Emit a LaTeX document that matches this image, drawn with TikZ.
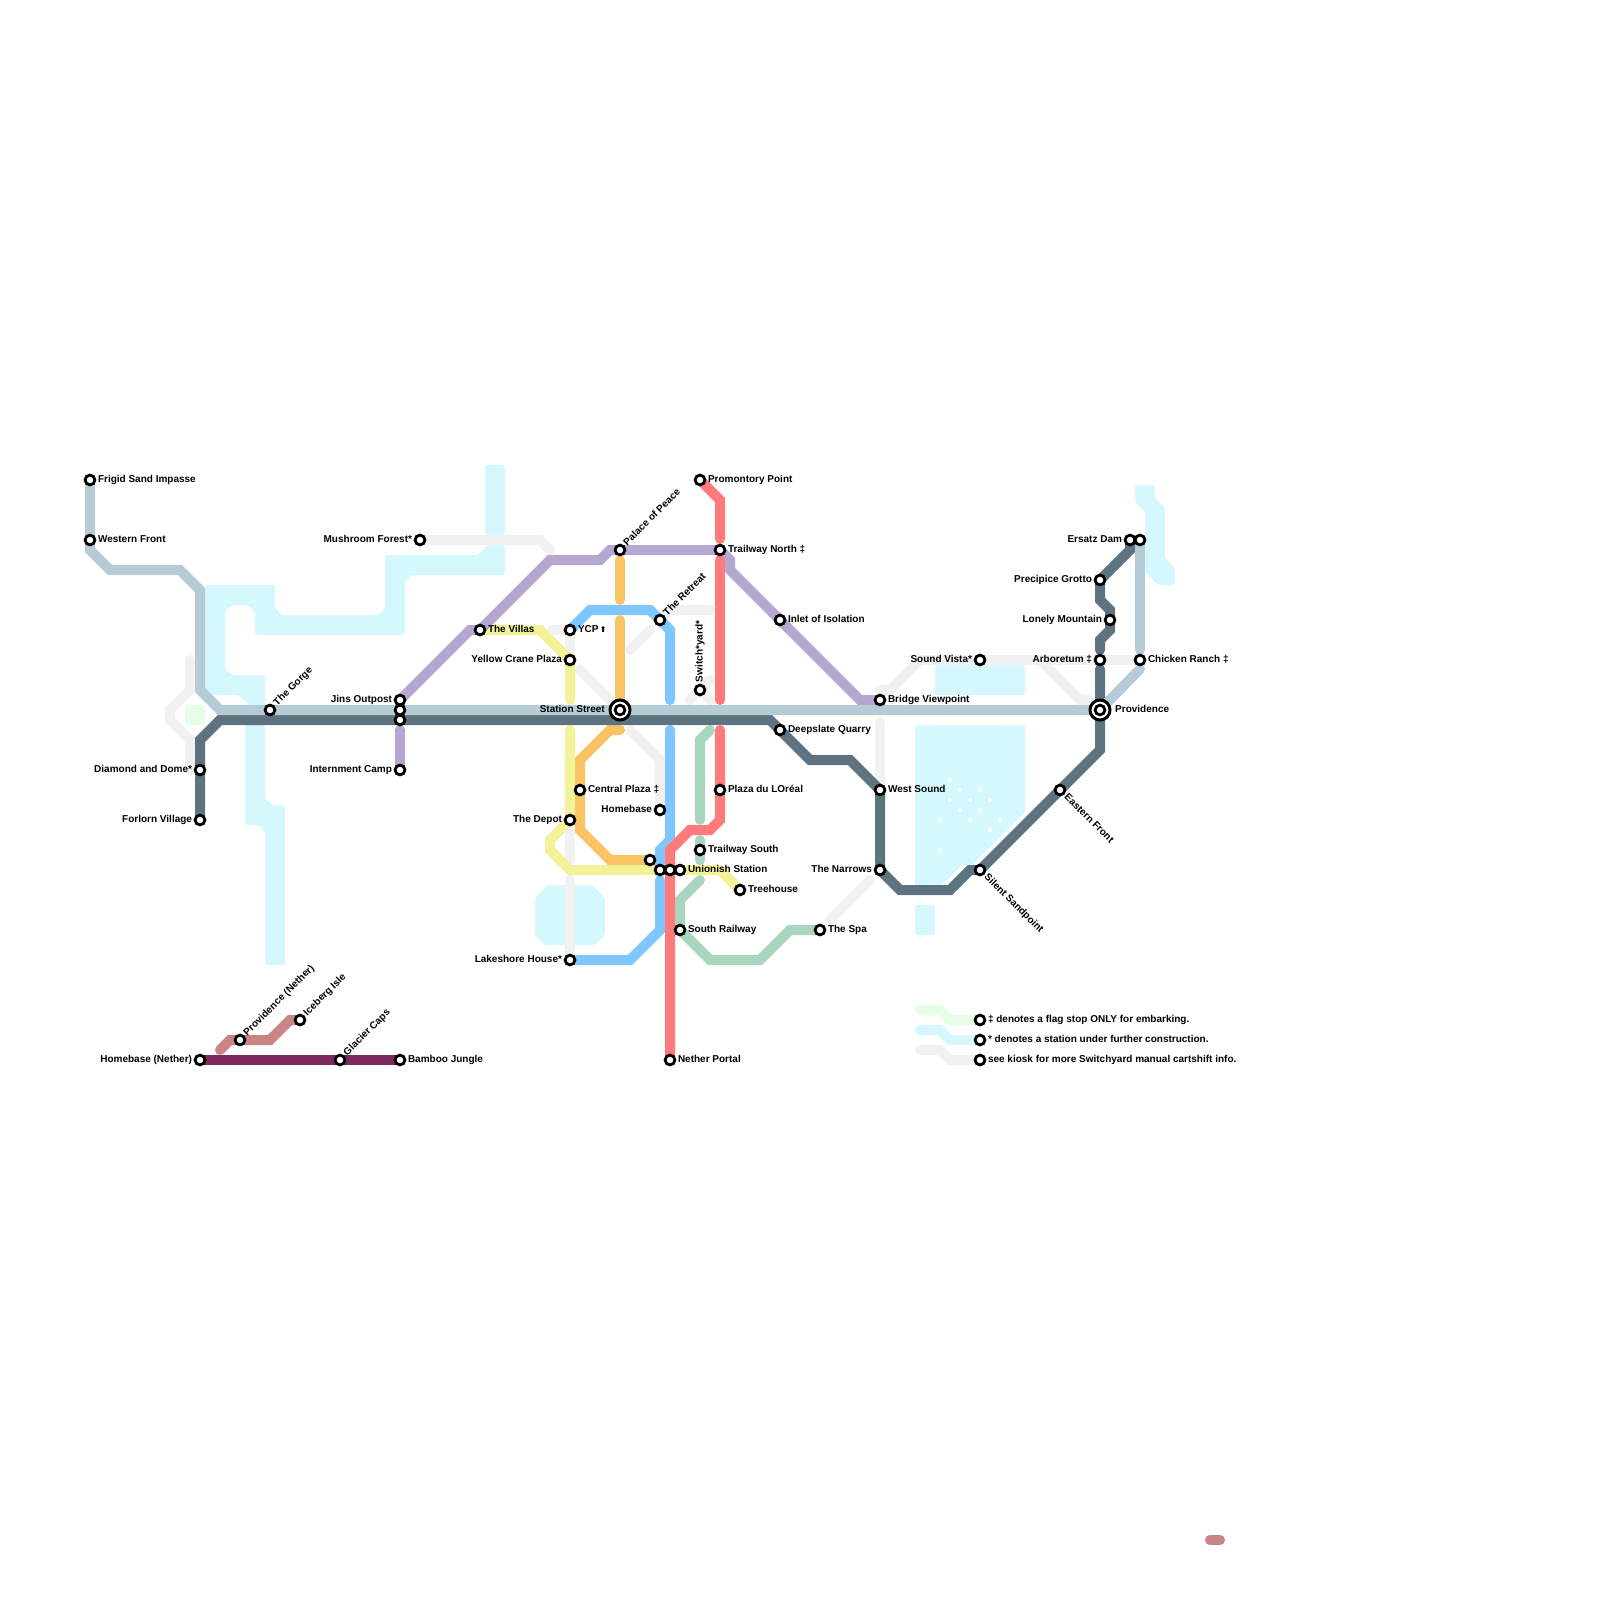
\documentclass[tikz,border=0pt]{standalone}
\usepackage{fontspec}
\setmainfont{Liberation Sans}
\newfontfamily\arrowfont{DejaVu Sans}
\usetikzlibrary{backgrounds}
\definecolor{cfog}{HTML}{B5CCD6}
\definecolor{cslate}{HTML}{5E7380}
\definecolor{cpurple}{HTML}{B6A6D2}
\definecolor{ccoral}{HTML}{FF7A7A}
\definecolor{cblue}{HTML}{7FC6FF}
\definecolor{corange}{HTML}{FAC364}
\definecolor{cyellow}{HTML}{F2F298}
\definecolor{cgreen}{HTML}{A9D6BE}
\definecolor{cgray}{HTML}{F1F1F1}
\definecolor{cwater}{HTML}{D5F8FF}
\definecolor{cpale}{HTML}{E6FDE6}
\definecolor{crose}{HTML}{C98484}
\definecolor{cplum}{HTML}{7B2A5B}
\tikzset{
stn/.style= {circle,draw=black,line width=1.4pt,fill=white,inner sep=0pt,outer sep=0pt,minimum size=4.9pt},
hub/.style= {circle,draw=black,line width=1.5pt,fill=white,inner sep=0pt,outer sep=0pt,minimum size=10pt},
lbl/.style= {font=\bfseries\fontsize{5pt}{6pt}\selectfont,inner ysep=0pt,inner xsep=3.8pt,text height=3.5pt,text depth=1pt},
lblr/.style= {lbl,anchor=west},
lbll/.style= {lbl,anchor=east},
lblu/.style= {lbl,anchor=west,rotate=45},
lbld/.style= {lbl,anchor=west,rotate=-45},
lblv/.style= {lbl,anchor=west,rotate=90},
ln/.style= {line width=5pt,line cap=round,line join=miter},
water/.style= {fill=cwater,rounded corners=1.2pt}
}

\begin{document}
\begin{tikzpicture}[x=5pt,y=-5pt]
\useasboundingbox (0,0) rectangle (160,160);

% the stations that carry a name
\foreach \id/\x/\y/\side/\txt in {
frigid/9/48/r/Frigid Sand Impasse, western/9/54/r/Western Front,
mushroom/42/54/l/Mushroom Forest*, jins/40/70/l/Jins Outpost,
internment/40/77/l/Internment Camp, gorge/27/71/u/The Gorge,
diamond/20/77/l/Diamond and Dome*, forlorn/20/82/l/Forlorn Village,
villas/48/63/r/The Villas, crane/57/66/l/Yellow Crane Plaza,
palace/62/55/u/Palace of Peace, trailn/72/55/r/Trailway North ‡,
promontory/70/48/r/Promontory Point, retreat/66/62/u/The Retreat,
switchyard/70/69/v/Switch*yard*, inlet/78/62/r/Inlet of Isolation,
bridge/88/70/r/Bridge Viewpoint, deepslate/78/73/r/Deepslate Quarry,
central/58/79/r/Central Plaza ‡, homebase/66/81/l/Homebase,
depot/57/82/l/The Depot, loreal/72/79/r/Plaza du LOréal,
trails/70/85/r/Trailway South, unionish/68/87/r/Unionish Station,
treehouse/74/89/r/Treehouse, southrail/68/93/r/South Railway,
spa/82/93/r/The Spa, lakeshore/57/96/l/Lakeshore House*,
nether/67/106/r/Nether Portal, westsound/88/79/r/West Sound,
narrows/88/87/l/The Narrows, silent/98/87/d/Silent Sandpoint,
eastern/106/79/d/Eastern Front, vista/98/66/l/Sound Vista*,
arboretum/110/66/l/Arboretum ‡, chicken/114/66/r/Chicken Ranch ‡,
lonely/111/62/l/Lonely Mountain, precipice/110/58/l/Precipice Grotto,
ersatz/113/54/l/Ersatz Dam, homen/20/106/l/Homebase (Nether),
provn/24/104/u/Providence (Nether), iceberg/30/102/u/Iceberg Isle,
glacier/34/106/u/Glacier Caps, bamboo/40/106/r/Bamboo Jungle,
flag/98/102/r/‡ denotes a flag stop ONLY for embarking.,
starred/98/104/r/* denotes a station under further construction.,
kiosk/98/106/r/see kiosk for more Switchyard manual cartshift info.}
{
  \node[stn] (\id) at (\x,\y) {};
  \node[lbl\side] (\id l) at (\id) {\txt};
}

% the stations with no name of their own
\foreach \id/\x/\y in {jinsb/40/71,jinsc/40/72,ersatzb/114/54,uniona/65/86,unionb/66/87,unionc/67/87}
  \node[stn] (\id) at (\x,\y) {};

\node[stn] (ycp) at (57,63) {};
\node[lblr] (ycpl) at (ycp) {YCP\hspace{.6pt}{\arrowfont\fontsize{4pt}{5pt}\selectfont ⬆}};

% the two big ones
\node[hub] (station) at (62,71) {};
\node[stn] (stationin) at (station) {};
\node[lbll,xshift=-3.6pt] (stationl) at (station) {Station Street};
\node[hub] (providence) at (110,71) {};
\node[stn] (providencein) at (providence) {};
\node[lblr,xshift=3.6pt] (providencel) at (providence) {Providence};

\begin{scope}[on background layer]
% water
\fill[water] (48.5,46.5) rectangle (50.5,53.5);
\fill[water] (48.8,54.5) -- (50.5,54.5) -- (50.5,57.5) -- (41.2,57.5) -- (40.5,58.2) -- (40.5,63.5) -- (25.5,63.5) -- (25.5,61.2) -- (24.8,60.5) -- (23.2,60.5) -- (22.5,61.2) -- (22.5,66.8) -- (23.2,67.5) -- (26.5,67.5) -- (26.5,71) -- (25.5,71) -- (23.8,69.5) -- (20.5,69.5) -- (20.5,58.5) -- (27.5,58.5) -- (27.5,60.8) -- (28.2,61.5) -- (37.8,61.5) -- (38.5,60.8) -- (38.5,55.5) -- (47.8,55.5) -- cycle;
\fill[water] (24.5,72.5) -- (26.5,72.5) -- (26.5,79.8) -- (27.2,80.5) -- (28.5,80.5) -- (28.5,96.5) -- (26.5,96.5) -- (26.5,83.2) -- (25.8,82.5) -- (24.5,82.5) -- cycle;
\fill[water] (53.5,89.8) -- (54.8,88.5) -- (59.2,88.5) -- (60.5,89.8) -- (60.5,93.5) -- (59.5,94.5) -- (54.5,94.5) -- (53.5,93.5) -- cycle;
\fill[water] (93.5,66.5) rectangle (102.5,69.5);
\fill[water] (91.5,72.5) -- (102.5,72.5) -- (102.5,81.2) -- (97.2,86.5) -- (96.2,86.5) -- (94,88.7) -- (91.5,88.7) -- cycle;
\fill[water] (91.5,90.5) rectangle (93.5,93.5);
\fill[water] (113.5,48.5) -- (115.5,48.5) -- (115.5,49.8) -- (116.5,50.8) -- (116.5,55.8) -- (117.5,56.8) -- (117.5,58.5) -- (115.8,58.5) -- (114.5,57.2) -- (114.5,51.2) -- (113.5,50.2) -- cycle;
\fill[fill=cpale,rounded corners=1.2pt] (18.5,70.5) rectangle (20.5,72.5);
\foreach \x/\y in {95/78,96/79,98/79,95/80,97/80,99/80,96/81,98/81,94/82,97/82,100/82,99/83,94/85}
  \fill[white] (\x-.27,\y) -- (\x,\y-.27) -- (\x+.27,\y) -- (\x,\y+.27) -- cycle;

% grey lines
\draw[ln,cgray] (mushroom.center) -- (54,54) -- (55,55);
\draw[ln,cgray] (19,66) -- (19,69) -- (17,71) -- (17,72) -- (19,74) -- (19,77);
\draw[ln,cgray] (55.2,63) -- (ycp.center) -- (crane.center);
\draw[ln,cgray] (58,67) -- (station.center);
\draw[ln,cgray] (63,73) -- (66,76) -- (homebase.center);
\draw[ln,cgray] (63,65) -- (65,63);
\draw[ln,cgray] (retreat.center) -- (67,61) -- (71,61);
\draw[ln,cgray] (69,70) -- (71,68);
\draw[ln,cgray] (switchyard.center) -- (71,70);
\draw[ln,cgray] (88,69) -- (89,69) -- (92,66) -- (104,66) -- (108,70) -- (109,70);
\draw[ln,cgray] (vista.center) -- (chicken.center);
\draw[ln,cgray] (88,72.2) -- (westsound.center);
\draw[ln,cgray] (83,92) -- (87,88);
\draw[ln,cgray] (depot.center) -- (57,86);
\draw[ln,cgray] (57,88) -- (lakeshore.center);

% green line
\draw[ln,cgreen] (71,73) -- (70,74) -- (70,82);
\draw[ln,cgreen] (70,84) -- (70,86);
\draw[ln,cgreen] (70,88) -- (68,90) -- (southrail.center) -- (71,96) -- (76,96) -- (79,93) -- (spa.center);

% yellow line
\draw[ln,cyellow] (villas.center) -- (54,63) -- (crane.center) -- (57,70);
\draw[ln,cyellow] (57,73) -- (depot.center) -- (55,84) -- (55,85) -- (57,87) -- (72,87) -- (treehouse.center);

% orange line
\draw[ln,corange] (62,56) -- (62,60);
\draw[ln,corange] (62,62) -- (station.center);
\draw[ln,corange] (62,73) -- (61,73) -- (58,76) -- (58,83) -- (61,86) -- (uniona.center);

% blue line
\draw[ln,cblue] (ycp.center) -- (59,61) -- (65,61) -- (67,63) -- (67,70);
\draw[ln,cblue] (67,73) -- (67,84) -- (66,85) -- (unionb.center);
\draw[ln,cblue] (66,88) -- (66,93) -- (63,96) -- (lakeshore.center);

% purple line
\draw[ln,cpurple] (internment.center) -- (40,73);
\draw[ln,cpurple] (jins.center) -- (47,63) -- (villas.center);
\draw[ln,cpurple] (villas.center) -- (55,56) -- (60,56) -- (61,55) -- (palace.center) -- (trailn.center) -- (73,56) -- (73,57) -- (86,70) -- (bridge.center);

% dark line
\draw[ln,cslate] (forlorn.center) -- (20,74) -- (22,72) -- (77,72) -- (81,76) -- (85,76) -- (westsound.center) -- (narrows.center) -- (90,89) -- (95,89) -- (97,87) -- (silent.center) -- (110,75) -- (110,66.9);
\draw[ln,cslate] (ersatz.center) -- (113,55) -- (precipice.center) -- (110,60) -- (111,61) -- (111,63) -- (110,64) -- (110,65);

% pale blue line
\draw[ln,cfog] (frigid.center) -- (9,55) -- (11,57) -- (18,57) -- (20,59) -- (20,69) -- (22,71) -- (providence.center);
\draw[ln,cfog] (ersatzb.center) -- (114,65);
\draw[ln,cfog] (114,66.9) -- (providence.center);

% red line
\draw[ln,ccoral] (promontory.center) -- (72,50) -- (72,53.9);
\draw[ln,ccoral] (72,56) -- (72,70);
\draw[ln,ccoral] (72,73) -- (72,82) -- (71,83) -- (69,83) -- (67,85) -- (nether.center);

% the nether lines
\draw[ln,crose] (22,105) -- (23,104) -- (27,104) -- (29,102) -- (iceberg.center);
\draw[ln,cplum] (homen.center) -- (bamboo.center);
\draw[ln,crose] (121,154) -- (122,154);

% legend
\draw[ln,cpale] (92,101) -- (94,101) -- (95,102) -- (flag.center);
\draw[ln,cwater] (92,103) -- (94,103) -- (95,104) -- (starred.center);
\draw[ln,cgray] (92,105) -- (94,105) -- (95,106) -- (kiosk.center);
\end{scope}

\end{tikzpicture}
\end{document}
